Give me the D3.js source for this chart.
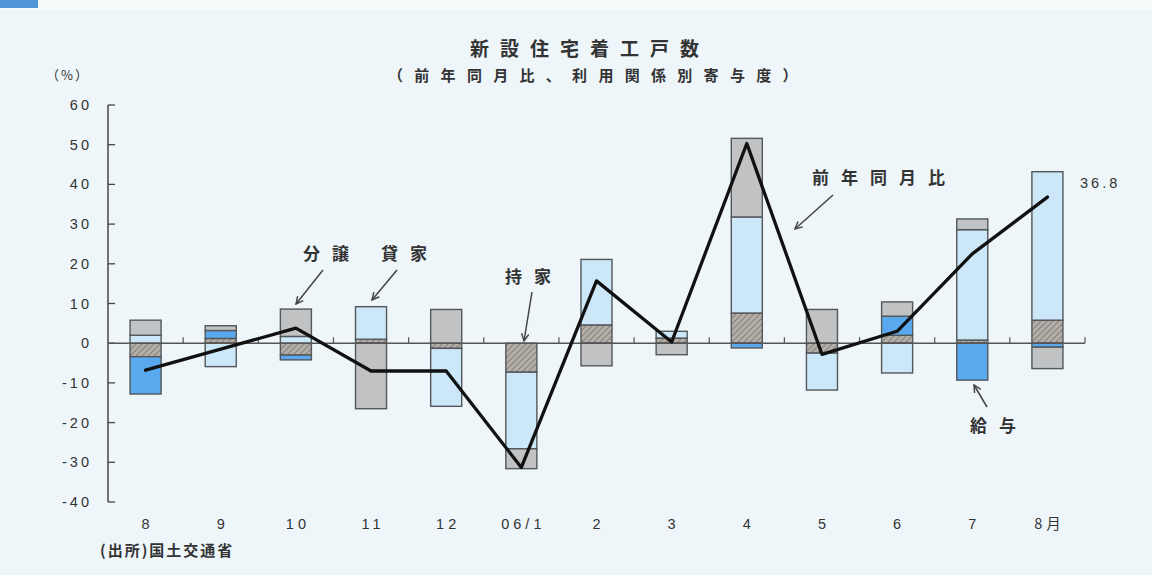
<!DOCTYPE html>
<html>
<head>
<meta charset="utf-8">
<script src="https://cdn.jsdelivr.net/npm/d3@7"></script>
<style>
  html, body { margin: 0; padding: 0; background: #eef6fa; }
  svg { display: block; }
  text { font-family: "Noto Sans CJK JP", "Noto Sans", sans-serif; fill: #333; }
  .num { font-family: "Liberation Sans", Arial, sans-serif; }
</style>
</head>
<body>
<svg id="chart" width="1152" height="575"></svg>
<script>
// Months on the x axis
const months = ["8", "9", "10", "11", "12", "06/1", "2", "3", "4", "5", "6", "7", "8月"];

// Contribution (percentage points) by type of use
const ownerOccupied = [-3.4, 1.2, -3.0, 1.0, -1.3, -7.3, 4.6, 1.3, 7.6, -2.5, 2.0, 0.8, 5.8];   // 持家
const rental        = [2.0, -5.9, 1.7, 8.2, -14.6, -19.3, 16.5, 1.7, 24.2, -9.3, -7.5, 27.8, 37.4]; // 貸家
const employer      = [-9.4, 2.0, -1.2, 0, 0, 0, 0, 0, -1.2, 0, 4.8, -9.3, -1.0];               // 給与
const forSale       = [3.8, 1.2, 6.9, -16.5, 8.5, -5.0, -5.7, -2.9, 19.8, 8.5, 3.6, 2.7, -5.4];  // 分譲

// Year-on-year change of total housing starts (%)
const yoy = [-6.8, -1.5, 3.8, -7.0, -7.0, -31.3, 15.7, 0.3, 50.3, -2.8, 3.0, 22.5, 36.8];

const yTicks = [60, 50, 40, 30, 20, 10, 0, -10, -20, -30, -40];

const keys = ["持家", "貸家", "給与", "分譲"];
const seriesArrays = { "持家": ownerOccupied, "貸家": rental, "給与": employer, "分譲": forSale };

const rows = months.map((m, i) => {
  const r = { month: m };
  keys.forEach(k => r[k] = seriesArrays[k][i]);
  return r;
});

const svg = d3.select("#chart");

// page background and top strip
svg.append("rect").attr("x", 0).attr("y", 0).attr("width", 1152).attr("height", 575).attr("fill", "#eef6fa");
svg.append("rect").attr("x", 0).attr("y", 0).attr("width", 1152).attr("height", 10).attr("fill", "#f7fafb");
svg.append("rect").attr("x", 0).attr("y", 0).attr("width", 38).attr("height", 8).attr("fill", "#4f95d8");

const defs = svg.append("defs");
const hatch = defs.append("pattern")
  .attr("id", "hatch").attr("patternUnits", "userSpaceOnUse")
  .attr("width", 6).attr("height", 6);
hatch.append("rect").attr("width", 6).attr("height", 6).attr("fill", "#b5afaa");
hatch.append("path").attr("d", "M-1,7 L7,-1 M-1,1 L1,-1 M5,7 L7,5")
  .attr("stroke", "#88817b").attr("stroke-width", 1.1);

const arrow = defs.append("marker")
  .attr("id", "arrow").attr("viewBox", "0 0 10 10")
  .attr("refX", 9).attr("refY", 5)
  .attr("markerWidth", 9).attr("markerHeight", 9)
  .attr("markerUnits", "userSpaceOnUse")
  .attr("orient", "auto");
arrow.append("path").attr("d", "M1,1 L9,5 L1,9").attr("fill", "none")
  .attr("stroke", "#444").attr("stroke-width", 1.6);

const fills = { "持家": "url(#hatch)", "貸家": "#cce7f8", "給与": "#5aa9ee", "分譲": "#c0c2c4" };

// scales
const x = d3.scaleBand().domain(months).range([108, 1085]).paddingInner(0.587).paddingOuter(0.2935);
const y = d3.scaleLinear().domain([-40, 60]).range([502, 105]);
const step = x.step();

// stacked contributions, positives up and negatives down from zero
const stacked = d3.stack().keys(keys).offset(d3.stackOffsetDiverging)(rows);

const bars = svg.append("g");
stacked.forEach(layer => {
  bars.append("g").selectAll("rect")
    .data(layer.filter(d => d[1] !== d[0]))
    .join("rect")
    .attr("x", d => x(d.data.month))
    .attr("width", x.bandwidth())
    .attr("y", d => y(Math.max(d[0], d[1])))
    .attr("height", d => Math.abs(y(d[0]) - y(d[1])))
    .attr("fill", fills[layer.key])
    .attr("stroke", "#53575a")
    .attr("stroke-width", 1.4);
});

// y axis
const yAxis = svg.append("g");
yAxis.append("line").attr("x1", 108).attr("x2", 108).attr("y1", y(60)).attr("y2", y(-40))
  .attr("stroke", "#444").attr("stroke-width", 1.5);
yAxis.selectAll("line.tick").data(yTicks).join("line").attr("class", "tick")
  .attr("x1", 108).attr("x2", 115).attr("y1", d => y(d)).attr("y2", d => y(d))
  .attr("stroke", "#444").attr("stroke-width", 1.3);
yAxis.selectAll("text").data(yTicks).join("text").attr("class", "num")
  .attr("x", 92).attr("y", d => y(d) + 5)
  .attr("text-anchor", "end").attr("font-size", 14.5).attr("letter-spacing", 3)
  .text(d => d);

// x axis along zero
const xAxis = svg.append("g");
xAxis.append("line").attr("x1", 108).attr("x2", 1085).attr("y1", y(0)).attr("y2", y(0))
  .attr("stroke", "#555").attr("stroke-width", 1.5);
xAxis.selectAll("line.tick").data(months).join("line").attr("class", "tick")
  .attr("x1", d => x(d) + x.bandwidth() / 2 + step / 2)
  .attr("x2", d => x(d) + x.bandwidth() / 2 + step / 2)
  .attr("y1", y(0)).attr("y2", y(0) - 6)
  .attr("stroke", "#555").attr("stroke-width", 1.2);
xAxis.selectAll("text").data(months).join("text")
  .attr("x", d => x(d) + x.bandwidth() / 2 + 2)
  .attr("y", 529)
  .attr("text-anchor", "middle").attr("font-size", 14.5).attr("letter-spacing", 4)
  .attr("class", d => d === "8月" ? null : "num")
  .text(d => d);

// year-on-year line
const line = d3.line()
  .x((d, i) => x(months[i]) + x.bandwidth() / 2)
  .y(d => y(d));
svg.append("path").datum(yoy).attr("d", line)
  .attr("fill", "none").attr("stroke", "#111").attr("stroke-width", 3.3)
  .attr("stroke-linejoin", "round").attr("stroke-linecap", "round");

// titles
svg.append("text").attr("x", 470).attr("y", 56).attr("font-size", 19).attr("font-weight", 700)
  .attr("letter-spacing", 11).text("新設住宅着工戸数");
svg.append("text").attr("x", 388).attr("y", 81).attr("font-size", 15).attr("font-weight", 700)
  .attr("letter-spacing", 11.3).text("（前年同月比、利用関係別寄与度）");
svg.append("text").attr("x", 46).attr("y", 80).attr("font-size", 13)
  .attr("letter-spacing", 2).text("（%）");

// callouts
const callouts = [
  { label: "分譲", tx: 303, ty: 260, from: [323, 270], to: [296, 304] },
  { label: "貸家", tx: 381, ty: 260, from: [397, 270], to: [372, 300] },
  { label: "持家", tx: 505, ty: 283, from: [532, 292], to: [524, 341] },
  { label: "前年同月比", tx: 812, ty: 184, from: [833, 195], to: [795, 229] },
  { label: "給与", tx: 970, ty: 432, from: [987, 407], to: [974, 385] }
];
callouts.forEach(c => {
  svg.append("line").attr("x1", c.from[0]).attr("y1", c.from[1])
    .attr("x2", c.to[0]).attr("y2", c.to[1])
    .attr("stroke", "#444").attr("stroke-width", 1.5).attr("marker-end", "url(#arrow)");
  svg.append("text").attr("x", c.tx).attr("y", c.ty).attr("font-size", 17).attr("font-weight", 700)
    .attr("letter-spacing", 12).text(c.label);
});

// end value of the line
svg.append("text").attr("class", "num")
  .attr("x", 1080).attr("y", 188).attr("font-size", 14.5).attr("letter-spacing", 3)
  .text(yoy[yoy.length - 1].toFixed(1));

// source
svg.append("text").attr("x", 100).attr("y", 556).attr("font-size", 15).attr("font-weight", 700)
  .attr("letter-spacing", 2).text("(出所)国土交通省");
</script>
</body>
</html>
